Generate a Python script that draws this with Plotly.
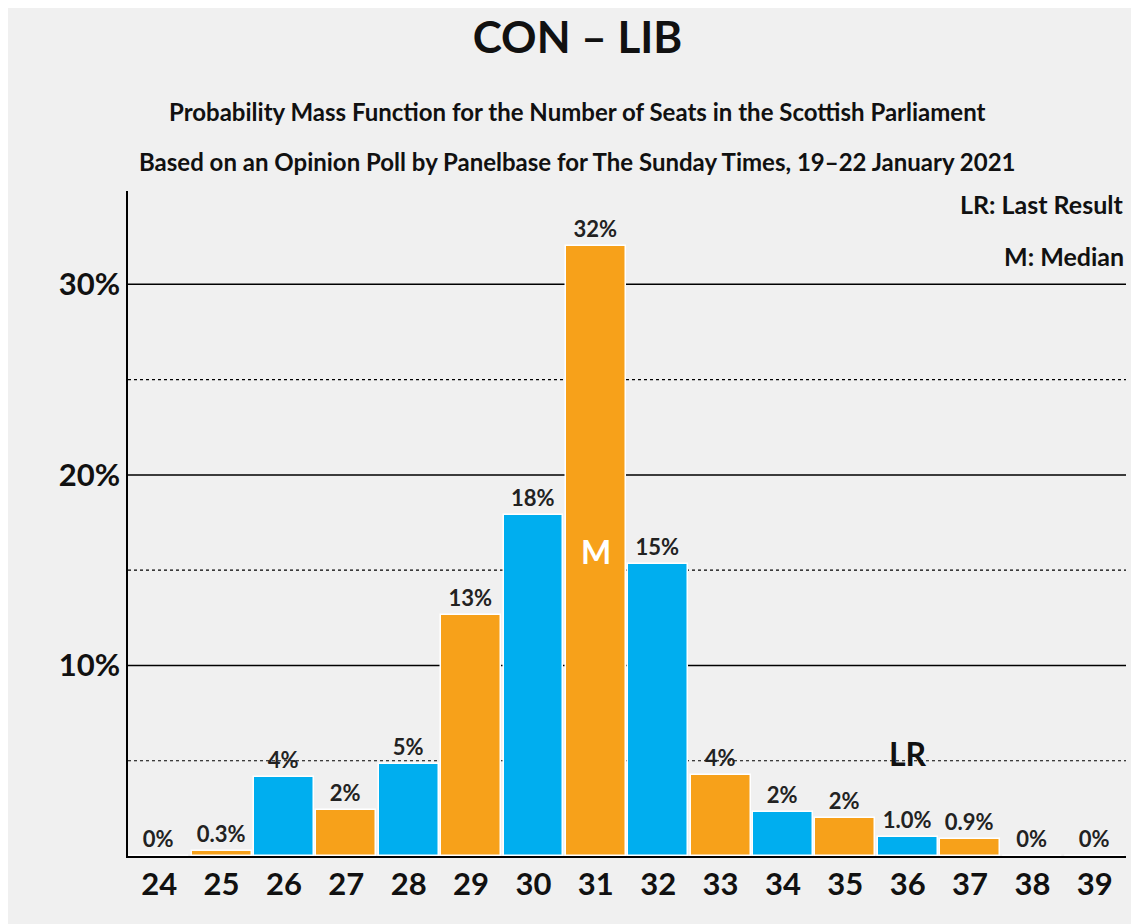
import plotly.graph_objects as go

seats = [24, 25, 26, 27, 28, 29, 30, 31, 32, 33, 34, 35, 36, 37, 38, 39]
probs = [0, 0.25, 4.15, 2.4, 4.85, 12.65, 17.9, 32.0, 15.3, 4.25, 2.3, 2.0, 1.0, 0.9, 0, 0]
labels = ["0%", "0.3%", "4%", "2%", "5%", "13%", "18%", "32%", "15%", "4%", "2%", "2%",
          "1.0%", "0.9%", "0%", "0%"]
median_seat = 31
last_result_seat = 36

blue = "#00AEEF"
orange = "#F7A11A"
bg = "#F0F0F0"
colors = [blue if i % 2 == 0 else orange for i in range(len(seats))]

fig = go.Figure()
fig.add_trace(go.Bar(
    x=seats, y=probs, width=0.96,
    marker=dict(color=colors, line=dict(color="white", width=1.5)),
    text=labels, textposition="outside", cliponaxis=False,
    textfont=dict(size=22, color="#222", family="Lato", weight="bold"),
    hoverinfo="skip",
))

for v in [5, 15, 25]:
    fig.add_hline(y=v, line=dict(color="black", width=1.2, dash="dot"), layer="below")
for v in [10, 20, 30]:
    fig.add_hline(y=v, line=dict(color="black", width=1.5), layer="below")

bold = dict(family="Lato", weight="bold")
fig.add_annotation(x=median_seat, y=16, text="M", showarrow=False,
                   font=dict(size=32, color="white", **bold))
fig.add_annotation(x=last_result_seat, y=5.4, text="LR", showarrow=False,
                   font=dict(size=32, color="#111", **bold))
fig.add_annotation(x=1, xref="paper", y=34.2, yref="y", text="LR: Last Result",
                   showarrow=False, xanchor="right", font=dict(size=25, color="#111", **bold))
fig.add_annotation(x=1, xref="paper", y=31.5, yref="y", text="M: Median",
                   showarrow=False, xanchor="right", font=dict(size=25, color="#111", **bold))

for text, ypix in [("Probability Mass Function for the Number of Seats in the Scottish Parliament", 104),
                   ("Based on an Opinion Poll by Panelbase for The Sunday Times, 19–22 January 2021", 153)]:
    fig.add_annotation(x=0.5, xref="paper", y=1 + (183 - ypix) / 665, yref="paper",
                       text=text, showarrow=False, yanchor="middle",
                       font=dict(size=24, color="#111", **bold), xshift=-50)
fig.add_annotation(x=1.0, xref="paper", xshift=16, y=1.27, yref="paper", text="© 2021 Filip van Laenen",
                   showarrow=False, textangle=-90, xanchor="center", yanchor="top",
                   font=dict(size=9, color="#333"))

fig.update_layout(
    width=1139, height=924,
    paper_bgcolor=bg, plot_bgcolor=bg,
    font=dict(family="Lato", color="#111"),
    margin=dict(l=120, r=21, t=183, b=76),
    showlegend=False,
    bargap=0,
    title=dict(
        text="CON – LIB",
        x=0.5, xanchor="center", y=0.985, yanchor="top", font=dict(size=44, color="#111", **bold),
    ),
    xaxis=dict(
        tickmode="array", tickvals=seats, ticktext=[str(s) for s in seats],
        tickfont=dict(size=31, **bold), showgrid=False, range=[23.5, 39.5],
        showline=True, linecolor="black", linewidth=1.5, ticks="",
    ),
    yaxis=dict(
        range=[0, 34.9], tickvals=[10, 20, 30], ticktext=["10%", "20%", "30%"],
        tickfont=dict(size=31, **bold), showgrid=False, zeroline=False,
        showline=True, linecolor="black", linewidth=1.5,
    ),
)

fig.write_html("out.html")
